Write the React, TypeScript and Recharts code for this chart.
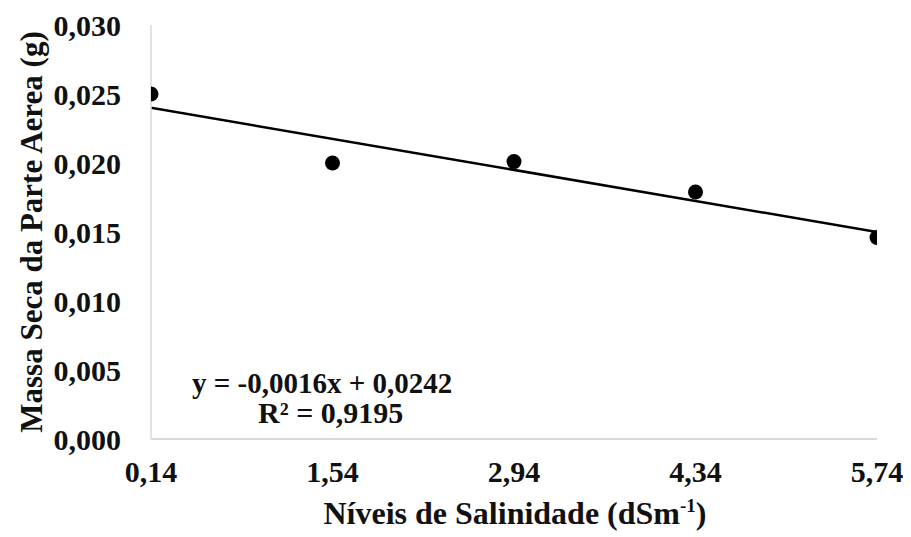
import { ComposedChart, Scatter, Line, XAxis, YAxis, Label } from 'recharts';

const salinidade = [0.14, 1.54, 2.94, 4.34, 5.74];
const massaSeca = [0.025, 0.02, 0.0201, 0.0179, 0.0146];
const trendX = [0.14, 5.74];
const trendY = [0.024, 0.015];
const yTicks = [0, 0.005, 0.01, 0.015, 0.02, 0.025, 0.03];

const points = salinidade.map((x, i) => ({ x, y: massaSeca[i] }));
const trend = trendX.map((x, i) => ({ x, t: trendY[i] }));

const FONT = '"Liberation Serif", "Times New Roman", serif';
const AXIS_GRAY = '#d9d9d9';

function XTitle({ viewBox }: any) {
  const cx = viewBox.x + viewBox.width / 2;
  return (
    <text x={cx + 1} y={524} textAnchor="middle" fontFamily={FONT} fontWeight="bold" fontSize={32} fill="#111">
      Níveis de Salinidade (dSm
      <tspan dy={-12} fontSize={19}>-1</tspan>
      <tspan dy={12}>)</tspan>
    </text>
  );
}

export default function App() {
  return (
    <div style={{ position: 'absolute', left: 0, top: 0, width: 911, height: 537, background: '#fff' }}>
      <ComposedChart width={911} height={537} margin={{ top: 25, right: 34, bottom: 0, left: 0 }}>
        <XAxis
          type="number"
          dataKey="x"
          domain={[0.14, 5.74]}
          ticks={salinidade}
          tickFormatter={(v: number) => v.toFixed(2).replace('.', ',')}
          tickLine={false}
          axisLine={{ stroke: AXIS_GRAY, strokeWidth: 2 }}
          tick={{ fontFamily: FONT, fontWeight: 'bold', fontSize: 30, fill: '#111' }}
          tickMargin={16}
          height={98}
          allowDataOverflow
        >
          <Label content={<XTitle />} />
        </XAxis>
        <YAxis
          type="number"
          domain={[0, 0.03]}
          ticks={yTicks}
          tickFormatter={(v: number) => v.toFixed(3).replace('.', ',')}
          tickLine={false}
          axisLine={{ stroke: AXIS_GRAY, strokeWidth: 1.5 }}
          tick={{ fontFamily: FONT, fontWeight: 'bold', fontSize: 30, fill: '#111' }}
          tickMargin={24}
          width={151}
          interval={0}
        >
          <Label
            value="Massa Seca da Parte Aerea (g)"
            angle={-90}
            position="insideLeft"
            offset={0}
            dx={31}
            style={{ fontFamily: FONT, fontWeight: 'bold', fontSize: 31, fill: '#111', textAnchor: 'middle' }}
          />
        </YAxis>
        <Line
          data={trend}
          dataKey="t"
          stroke="#000"
          strokeWidth={2.5}
          dot={false}
          activeDot={false}
          isAnimationActive={false}
        />
        <Scatter
          data={points}
          dataKey="y"
          fill="#000"
          shape={(p: any) => <circle cx={p.cx} cy={p.cy} r={7.5} fill="#000" />}
          isAnimationActive={false}
        />
      </ComposedChart>
      <svg
        width={911}
        height={537}
        style={{ position: 'absolute', left: 0, top: 0, pointerEvents: 'none' }}
      >
        <text x={192} y={393} fontFamily={FONT} fontWeight="bold" fontSize={29} fill="#111">
          y = -0,0016x + 0,0242
        </text>
        <text x={258} y={423} fontFamily={FONT} fontWeight="bold" fontSize={30} fill="#111">
          R² = 0,9195
        </text>
      </svg>
    </div>
  );
}
